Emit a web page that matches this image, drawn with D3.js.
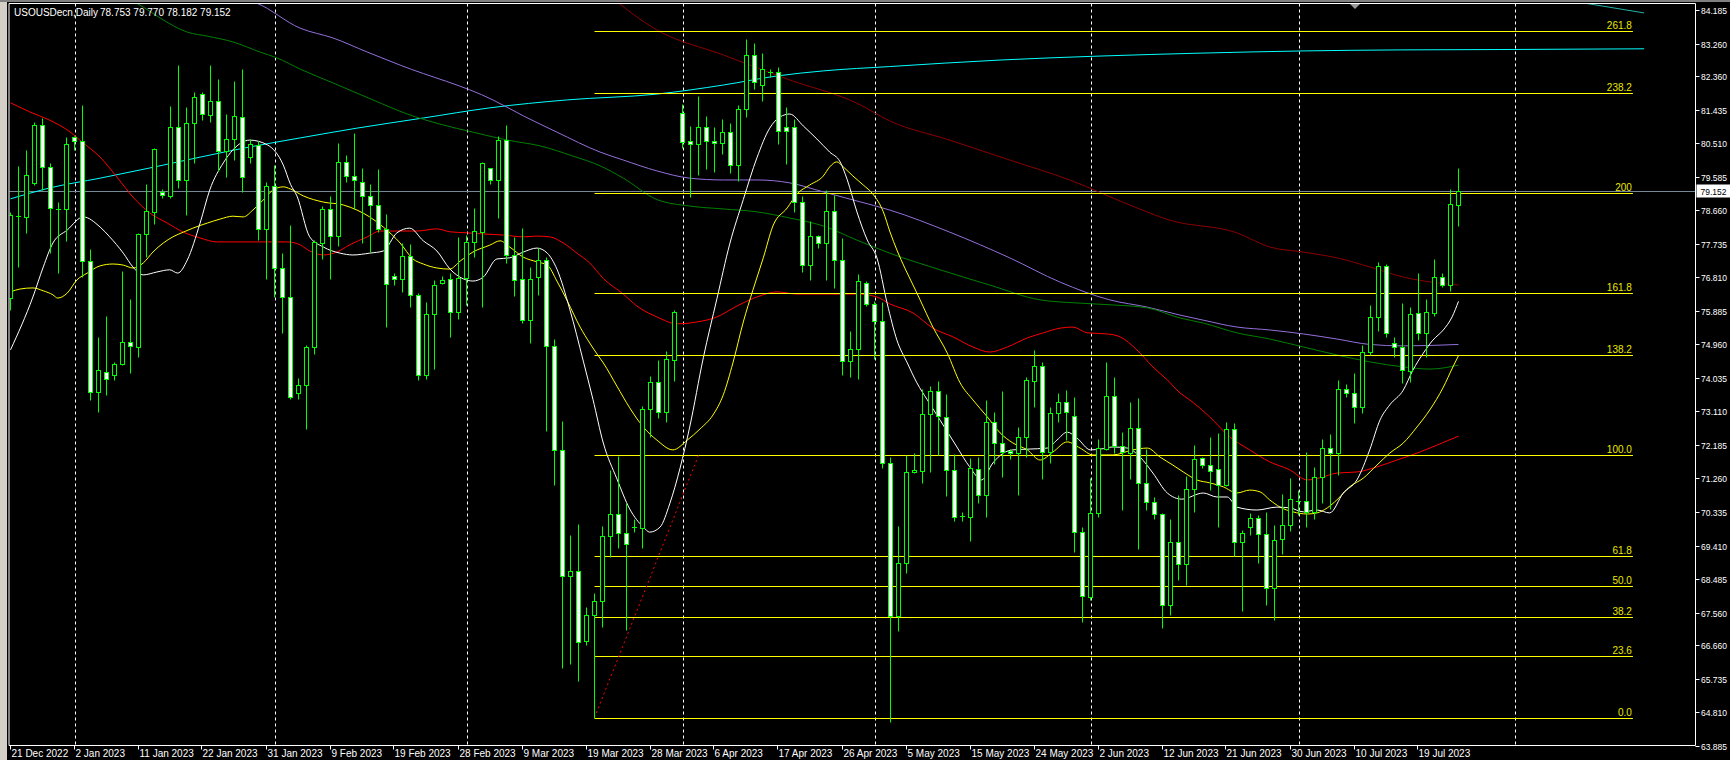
<!DOCTYPE html>
<html><head><meta charset="utf-8">
<script src="https://cdn.jsdelivr.net/npm/d3@7"></script>
<style>
html,body{margin:0;padding:0;background:#000;overflow:hidden}
svg{display:block}
text{font-family:"Liberation Sans","DejaVu Sans",Arial,sans-serif;font-size:10px}
</style></head><body>
<svg id="c" width="1730" height="760"></svg>
<script>
// ---------- DATA ----------
const symbolTitle = "USOUSDecn,Daily";
const headerOHLC = "78.753 79.770 78.182 79.152";
const lastPrice = 79.152;

const opens = [76.18,78.46,78.42,79.36,80.96,79.80,78.66,78.64,80.63,80.53,
77.22,73.61,74.16,74.06,74.36,74.97,74.85,77.95,78.57,79.11,
79.02,80.90,79.45,81.02,81.81,81.24,81.64,80.25,80.57,81.20,
80.08,80.41,78.09,79.29,77.01,76.21,73.56,73.78,74.84,77.71,
78.66,77.89,79.94,79.55,79.40,79.00,78.77,78.09,76.81,76.71,
77.35,76.27,74.08,75.75,76.60,76.71,75.81,76.74,77.74,78.02,
79.77,79.44,80.55,77.38,76.71,75.58,76.78,77.25,74.86,71.99,
68.52,68.65,66.72,67.44,67.83,69.62,70.22,69.71,69.87,69.83,
73.12,73.87,73.04,74.47,81.29,80.53,80.44,80.91,80.53,80.47,
80.76,79.85,81.41,82.90,82.08,82.42,82.42,80.91,80.91,78.83,
77.09,77.90,77.70,78.58,77.23,74.44,74.78,76.60,76.04,75.56,
71.63,67.42,68.87,71.38,71.43,72.98,73.63,72.92,71.44,70.17,
70.14,71.47,70.75,72.78,72.18,71.97,71.91,72.36,73.89,74.31,
71.93,73.01,73.31,72.94,69.72,67.93,70.25,72.02,73.50,72.12,
71.91,72.60,71.08,70.57,70.22,67.72,69.47,68.84,70.91,71.77,
71.58,71.47,71.03,72.57,69.47,69.88,70.11,69.67,68.18,69.53,
69.93,70.58,70.60,70.28,71.24,72.06,71.91,73.67,73.56,73.18,
74.71,75.66,77.08,74.96,74.85,74.19,75.77,75.22,75.79,76.78,
76.55,78.753];
const highs = [78.57,79.84,80.28,81.06,81.15,79.91,78.85,80.64,80.67,81.52,
77.54,75.12,75.70,74.43,76.95,76.17,77.99,79.34,80.34,79.19,
81.49,82.62,81.46,81.89,81.89,82.62,82.23,81.27,82.18,82.50,
80.57,80.53,79.40,79.86,77.43,78.21,73.98,74.90,77.80,78.72,
79.00,80.46,80.13,80.75,79.79,79.35,79.75,78.50,76.89,77.72,
77.69,76.34,76.08,76.69,76.81,76.89,77.87,77.94,78.68,79.94,
79.79,80.66,80.97,77.87,78.13,77.06,77.58,77.33,75.05,72.79,
69.66,69.96,67.66,68.05,69.90,71.45,71.82,70.53,70.10,73.21,
74.05,74.48,74.72,75.85,81.55,80.94,81.76,81.22,80.92,81.14,
81.01,81.51,83.34,83.24,82.96,82.52,82.56,81.45,81.14,79.00,
78.33,77.93,79.16,79.03,77.86,75.28,76.85,76.67,76.10,76.08,
71.81,69.90,71.86,71.91,73.67,73.76,73.90,73.53,71.89,70.28,
71.77,71.79,73.38,73.04,73.63,72.03,72.64,74.00,74.76,74.43,
73.17,73.56,73.65,73.45,69.86,71.22,72.29,74.43,74.00,72.48,
73.33,73.42,72.02,70.71,70.25,70.09,70.75,71.28,72.14,71.81,
72.35,72.46,72.78,72.73,69.79,70.25,70.20,70.29,69.93,70.78,
71.22,70.89,71.93,71.52,72.29,72.43,73.93,73.81,74.13,74.90,
76.00,77.18,77.13,75.11,76.05,75.94,76.87,76.16,77.26,76.89,
79.19,79.770];
const lows = [75.86,77.04,77.98,79.31,79.17,77.43,76.88,77.77,80.28,76.78,
73.38,73.05,73.52,73.93,74.34,74.13,74.57,77.33,78.23,78.96,
78.94,79.22,78.48,79.93,81.11,81.06,79.71,79.54,80.00,79.13,
79.93,77.79,76.73,76.23,75.22,73.40,73.40,72.59,74.65,77.28,
76.72,77.64,79.40,78.64,77.72,77.47,78.00,75.38,76.56,76.36,
75.95,73.93,73.97,74.23,76.58,75.12,75.61,75.99,77.31,75.95,
79.35,78.39,77.17,76.25,75.49,74.95,76.28,72.51,71.04,65.99,
66.08,65.61,66.62,64.61,67.10,69.05,69.30,67.04,69.72,69.30,
72.35,72.89,72.76,73.90,80.32,78.98,79.60,79.75,79.66,80.17,
79.63,79.41,81.20,81.95,81.64,82.30,80.44,79.88,78.56,76.92,
76.69,77.57,76.69,76.48,74.06,74.02,73.96,75.97,74.50,71.49,
64.49,67.00,68.59,71.35,71.08,71.40,71.86,70.73,70.05,70.05,
69.49,70.54,70.16,71.61,71.26,71.74,70.76,71.80,73.19,71.20,
71.63,72.78,72.27,69.19,67.26,67.86,70.16,72.00,71.91,70.34,
71.20,69.27,70.34,70.09,67.09,67.44,68.41,68.27,70.29,71.49,
70.89,69.88,70.99,69.07,67.56,69.65,68.89,67.72,67.30,69.13,
69.76,70.20,69.88,70.08,70.54,70.36,71.31,73.47,72.75,73.03,
74.62,75.29,75.11,74.57,73.84,73.88,75.03,74.56,75.70,76.50,
76.39,78.182];
const closes = [78.48,78.44,79.58,80.96,79.80,78.67,78.65,80.43,80.52,77.22,
73.61,74.21,73.95,74.37,74.97,74.86,77.96,78.59,80.30,79.03,
80.92,79.45,81.02,81.73,81.27,81.62,80.25,80.57,81.21,79.52,
80.43,78.09,79.29,77.01,76.21,73.47,73.78,74.84,77.73,78.64,
77.89,79.94,79.55,79.44,79.00,78.75,78.09,76.58,76.71,77.35,
76.27,74.08,75.75,76.56,76.70,75.81,76.74,77.74,78.04,79.92,
79.44,80.55,77.38,76.69,75.58,76.72,77.25,74.87,71.99,68.52,
68.66,66.71,67.43,67.83,69.62,70.22,69.71,69.39,69.86,73.14,
73.87,73.04,74.50,75.81,80.51,80.44,80.92,80.53,80.46,80.76,
79.85,81.41,82.90,82.14,82.52,82.42,80.80,80.80,78.83,77.09,
77.89,77.70,78.58,77.23,74.44,74.78,76.67,76.04,75.56,71.63,
67.42,68.87,71.40,71.44,72.98,73.63,72.94,71.44,70.16,70.16,
71.49,70.75,72.78,72.18,71.95,71.91,72.35,73.93,74.31,71.93,
73.01,73.31,73.04,69.72,67.97,70.25,72.04,73.50,72.12,71.93,
72.60,71.08,70.57,70.22,67.72,69.47,68.84,70.91,71.74,71.58,
71.43,71.03,72.57,69.47,69.70,70.11,69.67,68.18,69.51,69.93,
70.64,70.59,70.28,71.24,72.06,71.91,73.67,73.56,73.18,74.71,
75.66,77.08,75.23,74.85,74.21,75.74,75.22,75.81,76.78,76.55,
78.78,79.152];

// moving averages: [bar index, price]
const maWhite = [[0,74.76],[2.8,76.22],[4.1,77.05],[5.3,77.71],[7.1,78.07],[9.1,78.43],[11.2,78.15],[12.4,77.88],[14.1,77.43],[15.3,77.05],[16.6,76.83],[18.3,76.91],[19.9,76.97],[20.9,76.88],[22.1,77.24],[23.7,78.26],[24.9,79.17],[26.6,79.92],[27.8,80.28],[29.9,80.55],[32.1,80.42],[34.1,79.86],[35,79.33],[35.8,79.01],[37.4,77.88],[39.1,77.60],[41.2,77.43],[42.8,77.38],[44.9,77.43],[46.6,77.49],[48.3,77.99],[49.9,78.12],[51.6,77.77],[53.3,77.49],[54.9,77.0],[56.6,76.72],[57.8,76.66],[59.1,76.77],[60.8,77.27],[62.4,77.30],[64.1,77.46],[65.8,77.57],[67.1,77.43],[68.3,76.99],[69.9,75.89],[71.6,74.45],[72.8,73.4],[74.1,72.19],[75.8,71.20],[77.4,70.37],[79.1,69.87],[79.9,69.73],[81.2,69.87],[82.4,70.51],[83.7,71.50],[84.9,72.63],[86.6,74.54],[88.3,76.17],[89.9,77.68],[91.6,78.91],[93.3,80.06],[94.9,80.88],[96.2,81.19],[97.4,81.27],[99.1,80.94],[100.8,80.58],[102.4,80.22],[103.7,79.95],[104.6,79.45],[105.8,78.57],[107.1,77.79],[108.3,77.30],[109.6,76.03],[110.8,75.03],[112.1,74.40],[113.3,73.85],[114.6,73.38],[116.2,72.82],[118.3,72.08],[119.9,71.53],[121.4,71.17],[122.8,71.64],[124.1,71.91],[125.3,72.0],[127.1,72.02],[129.6,72.05],[130.8,72.27],[132.1,72.49],[133.3,72.33],[135,72.0],[136.2,72.02],[137.8,72.08],[139.6,72.05],[141.2,71.80],[142.8,71.36],[144.6,70.81],[146.4,70.64],[149.1,70.81],[150.8,70.70],[152.1,70.70],[153.3,70.42],[155.8,70.34],[158.3,70.42],[159.9,70.40],[161.6,70.29],[163.3,70.34],[164.9,70.26],[166.6,70.81],[168.3,71.17],[169.9,72.0],[171.2,72.83],[172.4,73.24],[174.1,73.65],[175.3,74.20],[176.6,74.67],[177.8,75.03],[179.1,75.31],[180.2,75.67],[181,76.1]];
const maYellow = [[0,76.36],[1.2,76.44],[2.8,76.47],[4.1,76.39],[5.3,76.28],[5.9,76.19],[7.1,76.33],[8.3,76.69],[9.6,76.88],[11.2,77.08],[12.8,77.13],[14.1,77.10],[15.3,77.02],[16.6,77.16],[17.8,77.46],[19.1,77.71],[20.3,77.88],[21.6,78.01],[22.8,78.12],[24.6,78.26],[26.2,78.37],[27.8,78.45],[29.1,78.43],[30.3,78.62],[31.6,78.90],[32.8,79.17],[34.1,79.26],[35.0,79.20],[36.6,79.01],[39.1,78.84],[41.6,78.76],[43.3,78.62],[44.9,78.43],[46.6,78.15],[48.7,77.71],[50.3,77.27],[51.6,77.13],[53.3,77.02],[54.9,76.99],[56.2,77.21],[57.8,77.46],[59.9,77.65],[61.2,77.77],[62.4,77.60],[64.1,77.32],[65.8,77.19],[67.1,77.10],[68.3,76.66],[69.6,76.11],[71.2,75.39],[72.4,74.95],[73.4,74.62],[74.1,74.40],[75.8,73.76],[77.4,73.16],[79.1,72.63],[80.8,72.27],[82.8,72.00],[84.6,72.27],[86.2,72.58],[87.8,72.96],[89.1,73.52],[90.3,74.40],[91.6,75.53],[92.8,76.41],[94.1,77.30],[95.3,78.18],[97.1,78.68],[98.3,79.06],[99.9,79.31],[101.6,79.56],[102.4,79.81],[103.3,79.95],[104.1,79.81],[105.3,79.56],[106.6,79.31],[107.8,79.06],[109.1,78.57],[109.9,78.04],[113.7,76.14],[115.3,75.39],[117.1,74.67],[118.7,73.85],[120.3,73.38],[122.1,72.91],[123.7,72.47],[125.3,72.19],[127.1,72.0],[128.7,71.72],[130.3,71.94],[132.1,72.22],[133.7,72.05],[135.3,71.86],[137.8,71.86],[140.3,72.00],[142.1,72.05],[143.7,71.80],[145.3,71.58],[146.6,71.39],[148.3,71.17],[149.9,71.09],[151.6,70.98],[153.3,70.81],[154.9,70.89],[156.2,70.84],[157.4,70.62],[158.7,70.42],[160.3,70.29],[162.1,70.23],[163.3,70.26],[164.6,70.40],[165.8,70.62],[167.4,70.98],[169.1,71.22],[170.8,71.58],[172.4,71.91],[174.1,72.19],[175.8,72.63],[177.4,73.10],[179.1,73.73],[180.3,74.29],[181,74.6]];
const maRed = [[0,81.58],[2.4,81.33],[4.9,81.10],[7.1,80.83],[9.1,80.47],[11.2,80.08],[13.3,79.53],[15.3,78.98],[17.4,78.54],[19.6,78.26],[21.6,78.01],[23.7,77.85],[25.8,77.74],[27.8,77.74],[32.1,77.74],[34.6,77.74],[36.2,77.66],[37.4,77.49],[39.1,77.38],[40.8,77.46],[42.4,77.66],[44.6,77.88],[46.2,78.04],[48.3,78.04],[50.8,78.04],[53.3,78.10],[54.9,78.02],[57.1,77.99],[59.1,77.96],[61.6,77.93],[64.1,77.88],[65.8,77.90],[67.4,77.88],[69.1,77.71],[70.8,77.43],[72.4,77.16],[74.1,76.73],[76.6,76.30],[78.3,75.97],[80.8,75.67],[83.3,75.48],[85.8,75.53],[88.3,75.67],[90.8,75.97],[93.3,76.22],[95.8,76.36],[98.3,76.30],[100.8,76.30],[103.3,76.30],[105.8,76.30],[108.3,76.22],[109.9,76.03],[112.8,75.78],[115.3,75.36],[117.8,75.12],[120.3,74.84],[122.4,74.70],[124.6,74.84],[127.1,75.09],[129.1,75.23],[131.2,75.36],[132.8,75.39],[134.6,75.23],[137.1,75.20],[138.7,75.12],[140.8,74.76],[142.8,74.29],[144.6,73.93],[146.2,73.57],[147.4,73.38],[149.9,72.91],[152.4,72.36],[154.9,72.00],[157.4,71.67],[159.9,71.45],[162.1,71.17],[163.7,71.23],[165.8,71.36],[168.3,71.39],[170.8,71.53],[173.3,71.72],[175.8,71.91],[178.3,72.13],[181,72.38]];
const maGreen = [[13.5,84.6],[16.6,84.22],[18.7,83.92],[22.1,83.53],[24.6,83.42],[27.8,83.26],[31.2,82.98],[33.3,82.82],[36.2,82.51],[40.3,82.13],[45.3,81.66],[49.6,81.27],[53.7,80.99],[57.8,80.77],[62.1,80.55],[66.2,80.39],[70.3,80.11],[73.7,79.84],[76.6,79.50],[80.8,78.91],[84.9,78.73],[89.1,78.65],[93.3,78.57],[97.4,78.40],[101.6,78.18],[105.8,77.79],[109.9,77.43],[116.2,76.97],[122.4,76.55],[128.7,76.14],[133.7,76.05],[137.8,76.00],[142.1,75.92],[146.2,75.64],[149.1,75.50],[153.3,75.23],[157.4,75.06],[161.6,74.84],[165.8,74.62],[169.9,74.43],[174.1,74.29],[177.4,74.23],[181,74.34]];
const maPurple = [[26,84.6],[30.8,84.33],[36.2,83.64],[40.3,83.37],[44.6,82.98],[48.7,82.62],[60.3,81.66],[64.1,81.22],[68.3,80.77],[73.7,80.22],[76.6,80.00],[80.8,79.70],[84.9,79.50],[89.1,79.45],[93.3,79.45],[97.4,79.37],[101.6,79.12],[105.8,78.87],[109.9,78.62],[117.4,78.01],[124.9,77.30],[131.2,76.63],[137.4,76.14],[142.1,75.94],[146.2,75.72],[149.1,75.58],[153.3,75.39],[157.4,75.31],[161.6,75.20],[165.8,75.06],[169.9,74.91],[174.1,74.87],[181,74.91]];
const maCyan = [[0,78.93],[4.9,79.23],[11.2,79.50],[17.4,79.78],[23.7,80.08],[29.9,80.36],[36.2,80.61],[43.3,80.88],[51.6,81.16],[59.9,81.44],[69.6,81.66],[80.8,81.82],[89.1,82.07],[95.8,82.32],[101.6,82.46],[109.9,82.58],[123.7,82.76],[136.2,82.87],[148.7,82.95],[161.2,83.01],[173.7,83.04],[186.2,83.05],[204.2,83.07]];
const maMaroon = [[74.5,84.6],[80.8,83.59],[89.1,82.90],[97.4,82.21],[105.8,81.57],[109.9,81.08],[117.4,80.55],[124.9,80.00],[132.4,79.45],[139.9,78.76],[144.9,78.34],[153.3,77.99],[157.4,77.60],[161.6,77.46],[165.8,77.30],[169.9,77.05],[174.1,76.77],[178.3,76.61],[181,76.55]];
const maTeal = [[193.5,84.45],[204.2,84.06]];

// Fibonacci retracement
const fibLevels = [0, 23.6, 38.2, 50.0, 61.8, 100.0, 138.2, 161.8, 200, 238.2, 261.8];
const fibLabels = ["0.0","23.6","38.2","50.0","61.8","100.0","138.2","161.8","200","238.2","261.8"];
const fibLow = 64.61, fibHigh = 71.85;
const fibStartBar = 73, fibHighBar = 86, fibEndBar = 202.8;

// axes
const yTickValues = [84.185,83.260,82.360,81.435,80.510,79.585,78.660,77.735,76.810,75.885,74.960,74.035,73.110,72.185,71.260,70.335,69.410,68.485,67.560,66.660,65.735,64.810,63.885];
const yTickLabels = ["84.185","83.260","82.360","81.435","80.510","79.585","78.660","77.735","76.810","75.885","74.960","74.035","73.110","72.185","71.260","70.335","69.410","68.485","67.560","66.660","65.735","64.810","63.885"];
const xTickBars = [0,8,16,24,32,40,48,56,64,72,80,88,96,104,112,120,128,136,144,152,160,168,176];
const xTickLabels = ["21 Dec 2022","2 Jan 2023","11 Jan 2023","22 Jan 2023","31 Jan 2023","9 Feb 2023","19 Feb 2023","28 Feb 2023","9 Mar 2023","19 Mar 2023","28 Mar 2023","6 Apr 2023","17 Apr 2023","26 Apr 2023","5 May 2023","15 May 2023","24 May 2023","2 Jun 2023","12 Jun 2023","21 Jun 2023","30 Jun 2023","10 Jul 2023","19 Jul 2023"];
const monthStartBars = [8,33,57,84,108,135,161,188];

// ---------- LAYOUT ----------
const L = 9, R = 1695.5, T = 3.5, B = 745.5;
const svg = d3.select("#c");
const x = d3.scaleLinear().domain([0, 181]).range([10.5, 1458.5]);
const y = d3.scaleLinear().domain([63.835, 84.326]).range([745.7, 3.3]);
const py = v => Math.round(y(v)) + 0.5;

svg.append("rect").attr("width",1730).attr("height",760).attr("fill","#000");
svg.append("rect").attr("x",0).attr("y",0).attr("width",7).attr("height",760).attr("fill","#d4d0c8");
svg.append("rect").attr("x",0).attr("y",0).attr("width",1730).attr("height",2).attr("fill","#808080");

const defs = svg.append("defs");
defs.append("clipPath").attr("id","clip").append("rect").attr("x",L+0.5).attr("y",T+0.5).attr("width",R-L-1).attr("height",B-T-1);
const plot = svg.append("g").attr("clip-path","url(#clip)");

// month grid
plot.selectAll("line.grid").data(monthStartBars).join("line")
  .attr("x1",d=>Math.round(x(d))+0.5).attr("x2",d=>Math.round(x(d))+0.5)
  .attr("y1",T).attr("y2",B).attr("stroke","#ffffff").attr("stroke-width",1).attr("stroke-dasharray","3,3");

// bid line
plot.append("line").attr("x1",L).attr("x2",R).attr("y1",py(lastPrice)).attr("y2",py(lastPrice))
  .attr("stroke","#778899").attr("stroke-width",1);

// moving averages
const maLine = d3.line().x(d=>x(d[0])).y(d=>y(d[1])).curve(d3.curveMonotoneX);
[[maCyan,"#00ffff"],[maTeal,"#20b2aa"],[maMaroon,"#8b0000"],[maPurple,"#9370db"],[maGreen,"#008000"],[maRed,"#ff0000"],[maYellow,"#ffff00"],[maWhite,"#ffffff"]]
  .forEach(([d,c])=>plot.append("path").attr("d",maLine(d)).attr("fill","none").attr("stroke",c).attr("stroke-width",1));

// fibonacci
const fx1 = x(fibStartBar), fx2 = x(fibEndBar);
const fibPrice = l => fibLow + (fibHigh - fibLow) * l / 100;
plot.selectAll("line.fib").data(fibLevels).join("line")
  .attr("x1",fx1).attr("x2",fx2).attr("y1",d=>py(fibPrice(d))).attr("y2",d=>py(fibPrice(d)))
  .attr("stroke","#ffff00").attr("stroke-width",1);
plot.selectAll("text.fib").data(fibLevels).join("text")
  .attr("x",fx2-1).attr("y",d=>py(fibPrice(d))-3).attr("text-anchor","end")
  .attr("fill","#e8e800").text((d,i)=>fibLabels[i]);
plot.append("line").attr("x1",x(fibStartBar)).attr("y1",y(fibLow)).attr("x2",x(fibHighBar)).attr("y2",y(fibHigh))
  .attr("stroke","#ff0000").attr("stroke-width",1).attr("stroke-dasharray","2,3");

// candles
const idx = d3.range(opens.length);
const cg = plot.append("g");
cg.selectAll("line.wick").data(idx).join("line")
  .attr("x1",i=>x(i)).attr("x2",i=>x(i)).attr("y1",i=>py(highs[i])).attr("y2",i=>py(lows[i]))
  .attr("stroke","#00ff00").attr("stroke-width",1);
idx.forEach(i=>{
  const top = py(Math.max(opens[i],closes[i])), bot = py(Math.min(opens[i],closes[i]));
  const bear = closes[i] < opens[i];
  if (bot - top < 1.5) {
    cg.append("line").attr("x1",x(i)-2.5).attr("x2",x(i)+2.5).attr("y1",top).attr("y2",top)
      .attr("stroke", "#00ff00").attr("stroke-width",1);
  } else {
    cg.append("rect").attr("x",x(i)-2).attr("y",top).attr("width",4).attr("height",bot-top)
      .attr("fill", bear ? "#ffffff" : "#000000").attr("stroke","#00ff00").attr("stroke-width",1);
  }
});

// chart shift marker
svg.append("path").attr("d","M1350,4 L1360,4 L1355,9 Z").attr("fill","#9a9a9a");

// frame
svg.append("line").attr("x1",L).attr("x2",R).attr("y1",T).attr("y2",T).attr("stroke","#fff");
svg.append("line").attr("x1",L).attr("x2",L).attr("y1",T).attr("y2",B).attr("stroke","#fff");
svg.append("line").attr("x1",R).attr("x2",R).attr("y1",T).attr("y2",B).attr("stroke","#fff");
svg.append("line").attr("x1",L).attr("x2",R).attr("y1",B).attr("y2",B).attr("stroke","#fff");

// y axis
const ya = svg.append("g").style("font-size","9.5px");
yTickValues.forEach((v,i)=>{
  const yy = Math.round(y(v)+1.8)+0.5;
  ya.append("line").attr("x1",R).attr("x2",R+4).attr("y1",yy).attr("y2",yy).attr("stroke","#fff");
  ya.append("text").attr("x",R+5.5).attr("y",yy+3.5).attr("fill","#fff").style("font-size","9.5px")
    .attr("textLength",26).attr("lengthAdjust","spacingAndGlyphs").text(yTickLabels[i]);
});
// last price tag
const ly = Math.round(y(lastPrice));
svg.append("rect").attr("x",R+1).attr("y",ly-6.5).attr("width",1730-R).attr("height",13).attr("fill","#fff");
svg.append("text").attr("x",R+5).attr("y",ly+4).attr("fill","#000").style("font-size","9.5px")
  .attr("textLength",26).attr("lengthAdjust","spacingAndGlyphs").text(lastPrice.toFixed(3));

// x axis
const xa = svg.append("g");
xTickBars.forEach((b,i)=>{
  const xx = Math.round(x(b))-0.5;
  xa.append("line").attr("x1",xx).attr("x2",xx).attr("y1",B).attr("y2",B+4).attr("stroke","#fff");
  xa.append("text").attr("x",xx+1).attr("y",757).attr("fill","#fff").text(xTickLabels[i]);
});

// header
svg.append("text").attr("x",14).attr("y",16).attr("fill","#fff").text(symbolTitle);
svg.append("text").attr("x",100).attr("y",16).attr("fill","#fff").text(headerOHLC);
</script>
</body></html>
